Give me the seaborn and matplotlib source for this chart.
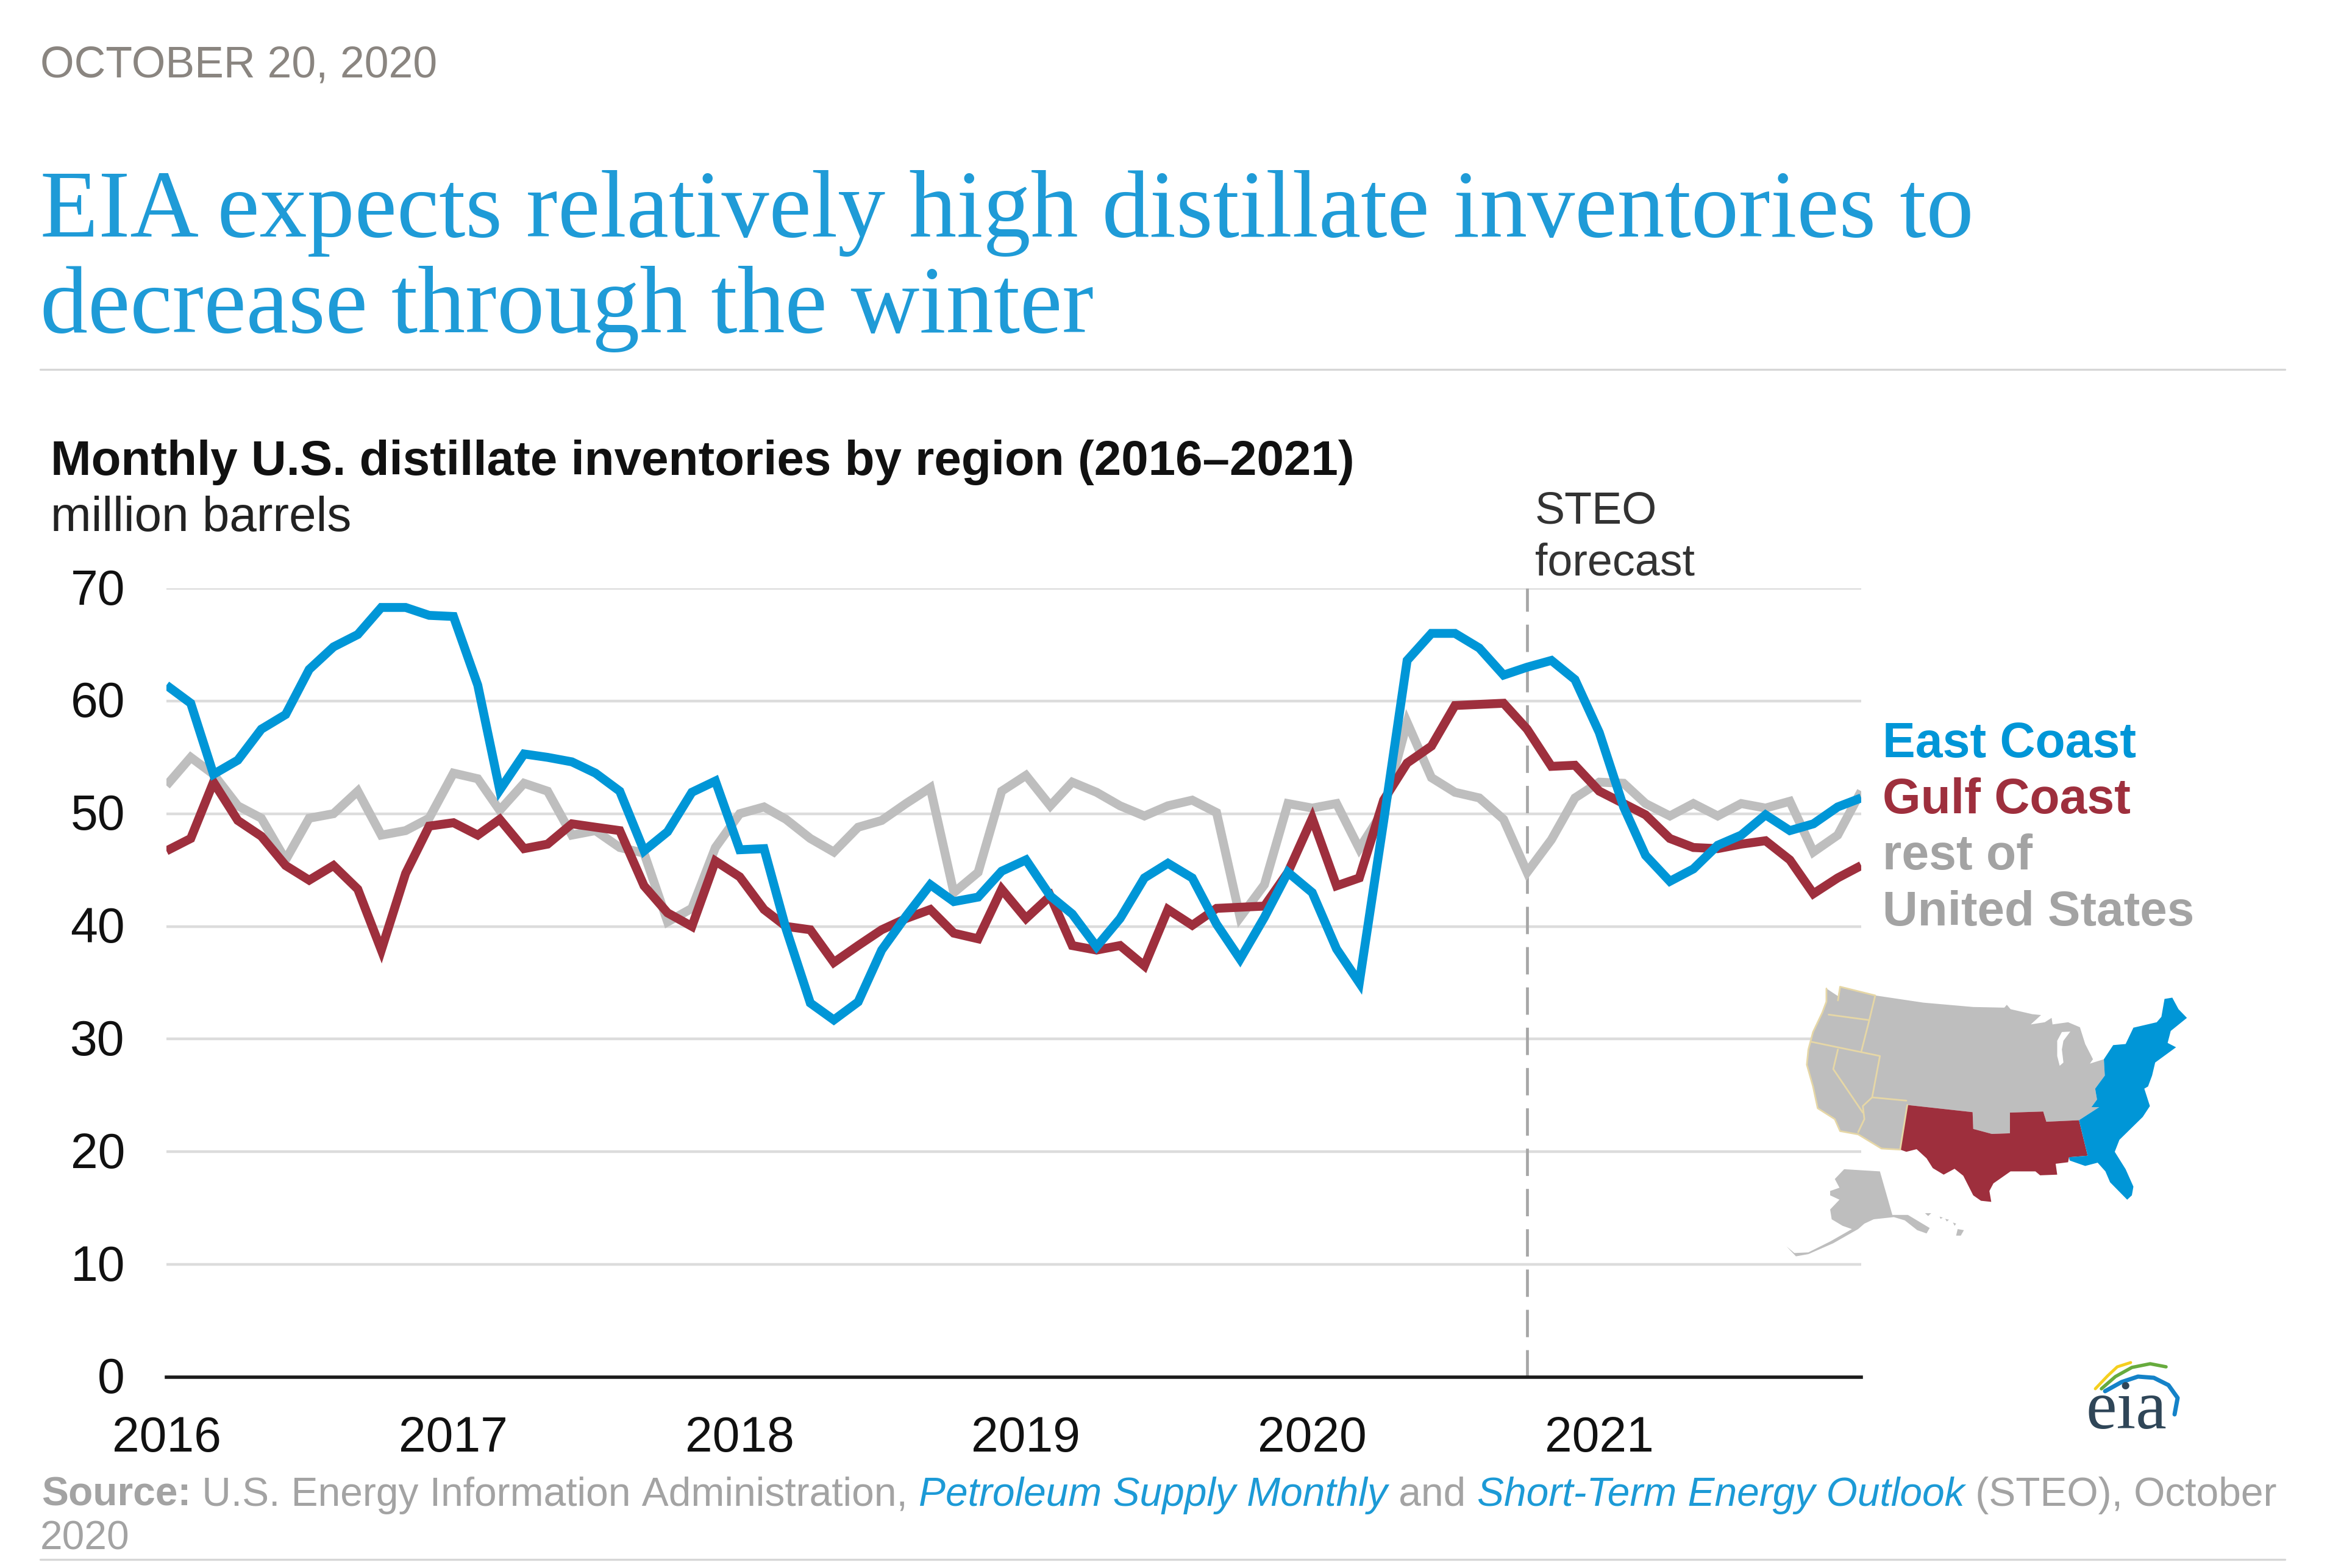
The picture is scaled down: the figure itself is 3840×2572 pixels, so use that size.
import pandas as pd
import matplotlib
matplotlib.use('Agg')
import matplotlib.pyplot as plt
import seaborn as sns
from matplotlib.lines import Line2D
from matplotlib.patches import Polygon
from matplotlib.transforms import ScaledTranslation

# monthly values, Jan 2016 - Dec 2021
east_coast = [61.4, 59.8, 53.5, 54.75, 57.5, 58.8, 62.8, 64.8, 65.9, 68.3, 68.3, 67.6,
              67.5, 61.4, 52.1, 55.3, 55.0, 54.6, 53.6, 52.0, 46.7, 48.4, 51.9, 52.9,
              46.8, 46.9, 39.8, 33.2, 31.7, 33.3, 37.9, 40.9, 43.7, 42.2, 42.6, 44.9,
              45.9, 42.7, 41.1, 38.2, 40.7, 44.3, 45.6, 44.3, 40.2, 37.1, 40.8, 44.8,
              43.0, 38.0, 35.0, 49.3, 63.6, 66.0, 66.0, 64.7, 62.3, 63.0, 63.6, 61.9,
              57.2, 50.6, 46.3, 44.0, 45.1, 47.2, 48.1, 49.9, 48.5, 49.1, 50.6, 51.4]
gulf_coast = [46.7, 47.8, 52.8, 49.4, 48.0, 45.4, 44.1, 45.4, 43.3, 37.9, 44.7, 48.9,
              49.2, 48.1, 49.5, 46.9, 47.3, 49.1, 48.8, 48.5, 43.6, 41.2, 40.0, 45.8,
              44.4, 41.5, 40.0, 39.7, 36.8, 38.3, 39.7, 40.7, 41.5, 39.4, 38.9, 43.3,
              40.7, 42.7, 38.3, 37.9, 38.3, 36.5, 41.5, 40.1, 41.6, 41.7, 41.8, 44.8,
              49.6, 43.6, 44.3, 51.2, 54.5, 56.0, 59.6, 59.7, 59.8, 57.5, 54.2, 54.3,
              52.0, 50.9, 49.9, 47.8, 47.0, 46.9, 47.3, 47.6, 45.9, 42.9, 44.3, 45.4]
rest_of_us = [52.5, 55.0, 53.5, 50.7, 49.6, 45.9, 49.6, 50.0, 52.0, 48.1, 48.5, 49.6,
              53.6, 53.1, 50.3, 52.7, 52.0, 48.1, 48.5, 47.0, 46.5, 40.4, 41.6, 47.0,
              50.0, 50.6, 49.5, 47.8, 46.6, 48.8, 49.4, 50.9, 52.3, 43.0, 44.8, 52.0,
              53.4, 50.7, 52.8, 51.9, 50.7, 49.8, 50.7, 51.2, 50.1, 40.8, 43.7, 50.9,
              50.5, 50.9, 46.9, 50.3, 58.1, 53.2, 51.9, 51.4, 49.5, 44.8, 47.7, 51.4,
              52.8, 52.7, 50.9, 49.8, 50.9, 49.8, 50.9, 50.5, 51.1, 46.6, 48.1, 52.0]

dates = pd.date_range('2016-01-01', periods=72, freq='MS')
y_ticks = [0, 10, 20, 30, 40, 50, 60, 70]
year_labels = ['2016', '2017', '2018', '2019', '2020', '2021']

# map outlines (inset axes coordinates)
map_gray = [(188, 200), (225, 235), (232, 192), (345, 232), (500, 265), (660, 285), (760, 288), (768, 275),
            (780, 295), (850, 318), (878, 322), (845, 365), (890, 355), (912, 335), (915, 365), (965, 355),
            (1003, 378), (1020, 455), (1045, 525), (1035, 545), (1080, 525), (1083, 600), (1052, 660),
            (1058, 710), (1040, 745), (1065, 745), (1000, 805), (895, 812), (885, 765), (778, 770), (778, 865),
            (720, 868), (660, 845), (658, 768), (448, 735), (425, 940), (365, 935), (290, 870), (232, 855),
            (215, 800), (160, 750), (145, 650), (125, 550), (130, 480), (145, 400), (175, 310), (188, 260)]
map_lake = [(945, 400), (972, 398), (950, 440), (945, 480), (950, 540), (938, 555), (930, 510), (930, 440)]
map_red = [(448, 735), (658, 768), (660, 845), (720, 868), (778, 865), (778, 770), (885, 765), (895, 812),
           (1000, 805), (1028, 968), (968, 975), (965, 998), (925, 1005), (930, 1055), (875, 1058), (860, 1040),
           (780, 1040), (725, 1095), (712, 1130), (718, 1180), (685, 1175), (660, 1150), (628, 1060), (600, 1028),
           (565, 1055), (530, 1025), (510, 980), (478, 938), (445, 950), (425, 940)]
map_blue = [(1275, 248), (1300, 242), (1320, 295), (1347, 335), (1295, 395), (1285, 450), (1312, 470), (1245, 540),
            (1235, 600), (1222, 650), (1210, 660), (1228, 740), (1205, 790), (1130, 895), (1115, 950), (1150, 1030),
            (1175, 1110), (1170, 1150), (1155, 1170), (1100, 1090), (1085, 1040), (1060, 1000), (1020, 1015),
            (970, 990), (968, 975), (1028, 968), (1000, 805), (1065, 745), (1040, 745), (1058, 710), (1052, 660),
            (1083, 600), (1080, 525), (1110, 460), (1150, 455), (1175, 380), (1250, 355), (1265, 330)]
map_alaska = [(245, 1030), (360, 1040), (400, 1240), (450, 1240), (520, 1300), (510, 1325), (480, 1310), (440, 1265),
              (405, 1250), (340, 1260), (310, 1280), (290, 1305), (210, 1370), (130, 1420), (90, 1430), (60, 1385),
              (85, 1415), (130, 1412), (200, 1362), (270, 1305), (240, 1290), (205, 1260), (200, 1215), (230, 1170),
              (200, 1150), (200, 1130), (230, 1115), (215, 1075)]
map_hawaii = [[(610, 1305), (630, 1310), (620, 1335), (605, 1335)],
              [(595, 1275), (605, 1280), (600, 1290)],
              [(570, 1258), (582, 1262), (575, 1270)],
              [(552, 1248), (562, 1252), (555, 1258)],
              [(505, 1232), (525, 1232), (515, 1245)]]
map_borders = [[(188, 200), (188, 260), (175, 310), (145, 400), (130, 480), (125, 550), (145, 650), (160, 750), (215, 800),
                (232, 855), (290, 870), (365, 935), (425, 940), (448, 735)],
               [(225, 255), (232, 192), (345, 232), (325, 350), (300, 490)],
               [(195, 320), (325, 345)],
               [(140, 445), (360, 510), (335, 700), (305, 740), (310, 800), (290, 860)],
               [(225, 480), (210, 570), (305, 770)],
               [(335, 700), (445, 715)]]

# logo arcs
logo_yellow = [(137, 128), (157, 107), (173, 92), (195, 85)]
logo_green = [(147, 128), (170, 108), (197, 93), (227, 87), (253, 92)]
logo_blue = [(153, 132), (180, 117), (207, 108), (233, 110), (257, 122), (272, 143), (267, 170)]

W, H = 3840, 2572
BLUE = '#0096d7'
RED = '#9e2f3d'
GRAY = '#bebebe'
LEGEND_GRAY = '#a3a3a3'
TITLE_BLUE = '#1f9bd7'
SANS = 'Liberation Sans'

df = pd.DataFrame({'date': list(dates) * 3,
                   'value': rest_of_us + gulf_coast + east_coast,
                   'region': ['rest'] * 72 + ['gulf'] * 72 + ['east'] * 72})

sns.set_theme(style='white')
plt.rcParams['font.family'] = SANS

fig = plt.figure(figsize=(W / 100, H / 100), dpi=100, facecolor='white')


def fx(x):
    return x / W


def fy(y):
    return 1 - y / H


def put(x, y, s, **kw):
    return fig.text(fx(x), fy(y), s, va='baseline', **kw)


ax = fig.add_axes([fx(273), fy(2259), (3053 - 273) / W, (2259 - 965) / H])
ax.set_facecolor('none')

sns.lineplot(data=df, x='date', y='value', hue='region', hue_order=['rest', 'gulf', 'east'],
             palette={'rest': GRAY, 'gulf': RED, 'east': BLUE}, linewidth=10.5, legend=False, ax=ax,
             solid_joinstyle='miter', solid_capstyle='butt', errorbar=None)

ax.set_xlim(dates[0], dates[-1])
ax.set_ylim(0, 70)
ax.set_yticks(y_ticks)
ax.set_xticks(pd.to_datetime([y + '-01-01' for y in year_labels]))
ax.set_xticklabels(year_labels)
ax.set_xlabel('')
ax.set_ylabel('')
ax.grid(axis='y', color='#dcdcdc', lw=3.2)
ax.set_axisbelow(True)
for name in ['top', 'right', 'left']:
    ax.spines[name].set_visible(False)
ax.spines['bottom'].set_color('#1a1a1a')
ax.spines['bottom'].set_linewidth(4)
ax.tick_params(axis='x', length=18, width=2.4, color='#1a1a1a', labelsize=58, pad=27, labelcolor='#111111')
ax.tick_params(axis='y', length=0, labelsize=58, pad=49, labelcolor='#111111')
for lab in ax.get_yticklabels():
    lab.set_transform(lab.get_transform() + ScaledTranslation(0, 3 / 100, fig.dpi_scale_trans))
ax.axvline(dates[57], color='#a6a6a6', lw=3.4, dashes=(9.5, 4.5), zorder=1.5)

# header
put(66, 127, 'OCTOBER 20, 2020', fontsize=51.6, color='#8a8580')
put(66, 388, 'EIA expects relatively high distillate inventories to', fontsize=112.3, color=TITLE_BLUE,
    family='Liberation Serif')
put(66, 545, 'decrease through the winter', fontsize=112.3, color=TITLE_BLUE, family='Liberation Serif')
fig.add_artist(Line2D([fx(66), fx(3748)], [fy(606), fy(606)], color='#d6d6d6', lw=2.4))
put(83, 779, 'Monthly U.S. distillate inventories by region (2016\u20132021)', fontsize=57.6, fontweight='bold',
    color='#111111')
put(83, 871, 'million barrels', fontsize=57.6, color='#222222')
put(2518, 859, 'STEO', fontsize=53, color='#333333')
put(2518, 944, 'forecast', fontsize=53, color='#333333')

# direct labels
put(3088, 1242, 'East Coast', fontsize=58, fontweight='bold', color=BLUE)
put(3088, 1334, 'Gulf Coast', fontsize=58, fontweight='bold', color=RED)
put(3088, 1426, 'rest of', fontsize=58, fontweight='bold', color=LEGEND_GRAY)
put(3088, 1518, 'United States', fontsize=57.6, fontweight='bold', color=LEGEND_GRAY)

# source line, pieces set one after the other
renderer = fig.canvas.get_renderer()
pieces = [('Source:', 'bold', 'normal', '#a3a3a3'),
          (' U.S. Energy Information Administration, ', 'normal', 'normal', '#a3a3a3'),
          ('Petroleum Supply Monthly', 'normal', 'italic', '#1c9ad6'),
          (' and ', 'normal', 'normal', '#a3a3a3'),
          ('Short-Term Energy Outlook', 'normal', 'italic', '#1c9ad6'),
          (' (STEO), October', 'normal', 'normal', '#a3a3a3')]
cur = 68
for s, weight, style, col in pieces:
    t = put(cur, 2470, s.replace(' ', '\u00a0'), fontsize=47.4, fontweight=weight, fontstyle=style, color=col)
    cur = t.get_window_extent(renderer).x1
put(66, 2542, '2020', fontsize=47.4, color='#a3a3a3')
fig.add_artist(Line2D([fx(66), fx(3748)], [fy(2558), fy(2558)], color='#d6d6d6', lw=2.4))

# locator map
map_ax = fig.add_axes([fx(2900), fy(2110), 800 / W, 560 / H])
map_ax.set_xlim(0, 1568)
map_ax.set_ylim(1568, 0)
map_ax.axis('off')
map_ax.patch.set_alpha(0)
map_ax.add_patch(Polygon(map_gray, fc=GRAY, ec='none'))
map_ax.add_patch(Polygon(map_lake, fc='white', ec='none'))
map_ax.add_patch(Polygon(map_red, fc=RED, ec='none'))
map_ax.add_patch(Polygon(map_blue, fc=BLUE, ec='none'))
map_ax.add_patch(Polygon(map_alaska, fc=GRAY, ec='none'))
for island in map_hawaii:
    map_ax.add_patch(Polygon(island, fc=GRAY, ec='none'))
for line in map_borders:
    map_ax.plot(*zip(*line), color='#e6d7a6', lw=2)

# eia logo
logo = fig.add_axes([fx(3300), fy(2450), 400 / W, 300 / H])
logo.set_xlim(0, 400)
logo.set_ylim(300, 0)
logo.axis('off')
logo.patch.set_alpha(0)
logo.text(188, 193, 'eia', fontsize=82, family='Liberation Serif', color='#2f4658', ha='center', va='baseline')
logo.plot(*zip(*logo_yellow), color='#f5cf1f', lw=3.5, solid_capstyle='round')
logo.plot(*zip(*logo_green), color='#67ab3d', lw=4, solid_capstyle='round')
logo.plot(*zip(*logo_blue), color='#1482c8', lw=5, solid_capstyle='round')

fig.savefig('out.png', dpi=100)
